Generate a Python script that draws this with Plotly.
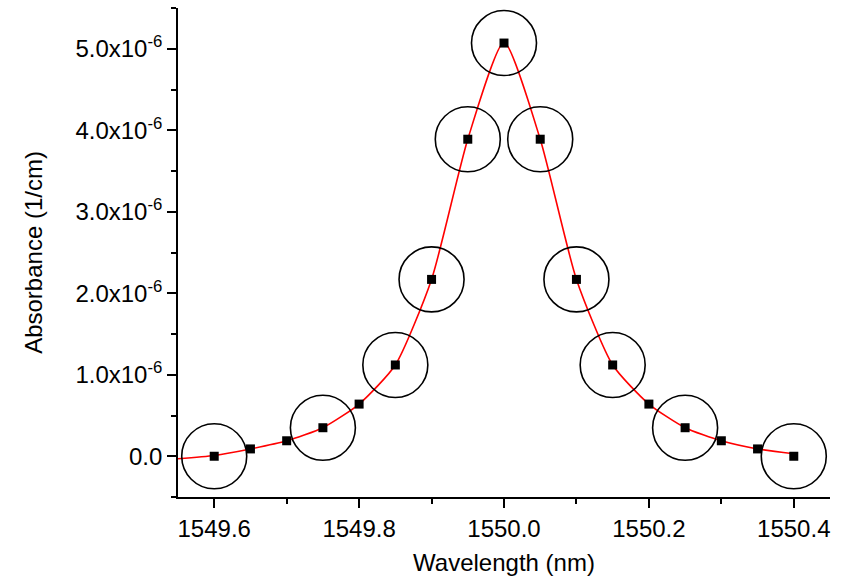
import plotly.graph_objects as go

# Measured data (wavelength in nm, absorbance in 1/cm)
wavelength = [1549.60, 1549.65, 1549.70, 1549.75, 1549.80, 1549.85, 1549.90, 1549.95,
              1550.00, 1550.05, 1550.10, 1550.15, 1550.20, 1550.25, 1550.30, 1550.35, 1550.40]
absorbance = [0.00e-6, 0.09e-6, 0.19e-6, 0.35e-6, 0.64e-6, 1.12e-6, 2.17e-6, 3.89e-6,
              5.07e-6, 3.89e-6, 2.17e-6, 1.12e-6, 0.64e-6, 0.35e-6, 0.19e-6, 0.09e-6, 0.00e-6]

# Fit curve
fit_x = [1549.55, 1549.60, 1549.65, 1549.70, 1549.75, 1549.80, 1549.85, 1549.90, 1549.95,
         1550.00, 1550.05, 1550.10, 1550.15, 1550.20, 1550.25, 1550.30, 1550.35, 1550.40]
fit_y = [-0.03e-6, 0.01e-6, 0.09e-6, 0.19e-6, 0.35e-6, 0.64e-6, 1.12e-6, 2.17e-6, 3.89e-6,
         5.08e-6, 3.89e-6, 2.17e-6, 1.12e-6, 0.64e-6, 0.35e-6, 0.19e-6, 0.09e-6, 0.03e-6]

# Highlighted (circled) points
circled_x = [1549.60, 1549.75, 1549.85, 1549.90, 1549.95, 1550.00, 1550.05,
             1550.10, 1550.15, 1550.25, 1550.40]
circled_y = [0.00e-6, 0.35e-6, 1.12e-6, 2.17e-6, 3.89e-6, 5.07e-6, 3.89e-6,
             2.17e-6, 1.12e-6, 0.35e-6, 0.00e-6]

x_tickvals = [1549.6, 1549.8, 1550.0, 1550.2, 1550.4]
x_ticktext = ["1549.6", "1549.8", "1550.0", "1550.2", "1550.4"]
y_tickvals = [0, 1e-6, 2e-6, 3e-6, 4e-6, 5e-6]
y_ticktext = ["0.0", "1.0x10<sup>-6</sup>", "2.0x10<sup>-6</sup>", "3.0x10<sup>-6</sup>",
              "4.0x10<sup>-6</sup>", "5.0x10<sup>-6</sup>"]

FONT = "Liberation Sans, Arial, sans-serif"

fig = go.Figure()
fig.add_trace(go.Scatter(x=fit_x, y=fit_y, mode="lines", line=dict(color="#ff0000", width=1.6, shape="spline", smoothing=0.6),
                         showlegend=False, hoverinfo="skip"))
fig.add_trace(go.Scatter(x=wavelength, y=absorbance, mode="markers",
                         marker=dict(symbol="square", size=9, color="black"), showlegend=False))
fig.add_trace(go.Scatter(x=circled_x, y=circled_y, mode="markers",
                         marker=dict(symbol="circle-open", size=65, color="black", line=dict(width=1.6, color="black")),
                         showlegend=False))

axis_common = dict(showline=True, linecolor="black", linewidth=1.6, ticks="outside", ticklen=9,
                   tickwidth=1.6, tickcolor="black", showgrid=False, zeroline=False, mirror=False,
                   automargin=False, tickfont=dict(family=FONT, size=24, color="black"))

fig.update_xaxes(range=[1549.55, 1550.45], tickvals=x_tickvals, ticktext=x_ticktext,
                 minor=dict(dtick=0.1, tick0=1549.5, ticks="outside", ticklen=5, tickwidth=1.6, tickcolor="black"),
                 title=dict(text="Wavelength (nm)", font=dict(family=FONT, size=24, color="black"), standoff=15),
                 **axis_common)
fig.update_yaxes(range=[-0.5e-6, 5.5e-6], tickvals=y_tickvals, ticktext=y_ticktext,
                 minor=dict(dtick=1e-6, tick0=-0.5e-6, ticks="outside", ticklen=5, tickwidth=1.6, tickcolor="black"),
                 title=dict(text="Absorbance (1/cm)", font=dict(family=FONT, size=24, color="black"), standoff=26),
                 **axis_common)

fig.update_layout(width=846, height=576, margin=dict(l=178, r=16, t=8, b=79),
                  paper_bgcolor="white", plot_bgcolor="white", font=dict(family=FONT))

fig.write_html("out.html")
